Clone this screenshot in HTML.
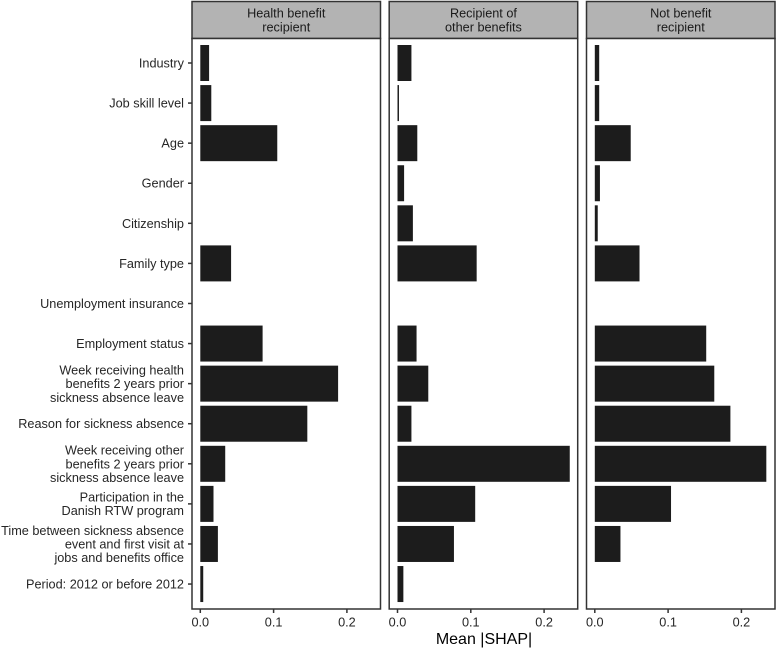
<!DOCTYPE html>
<html>
<head>
<meta charset="utf-8">
<style>
html,body{margin:0;padding:0;background:#fff;}
svg{display:block;}
text{font-family:"Liberation Sans",sans-serif;}
</style>
</head>
<body>
<svg id="chart" width="777" height="648" viewBox="0 0 777 648" xmlns="http://www.w3.org/2000/svg"></svg>
<script>
const categories = [
  ["Industry"],
  ["Job skill level"],
  ["Age"],
  ["Gender"],
  ["Citizenship"],
  ["Family type"],
  ["Unemployment insurance"],
  ["Employment status"],
  ["Week receiving health","benefits 2 years prior","sickness absence leave"],
  ["Reason for sickness absence"],
  ["Week receiving other","benefits 2 years prior","sickness absence leave"],
  ["Participation in the","Danish RTW program"],
  ["Time between sickness absence","event and first visit at","jobs and benefits office"],
  ["Period: 2012 or before 2012"]
];
const panelTitles = [
  ["Health benefit","recipient"],
  ["Recipient of","other benefits"],
  ["Not benefit","recipient"]
];
const healthValues = [0.012,0.015,0.105,0,0,0.042,0,0.085,0.188,0.146,0.034,0.018,0.024,0.004];
const otherValues = [0.019,0.002,0.027,0.009,0.021,0.108,0,0.026,0.042,0.019,0.235,0.106,0.077,0.008];
const noneValues = [0.006,0.006,0.049,0.007,0.004,0.061,0,0.152,0.163,0.185,0.234,0.104,0.035,0];
const xTicks = [0.0,0.1,0.2];
const xTickLabels = ["0.0","0.1","0.2"];
const axisTitle = "Mean |SHAP|";

const NS = "http://www.w3.org/2000/svg";
const svg = document.getElementById("chart");
const panelLefts = [192, 389.2, 586.5];
const panelW = 188.5;
const stripTop = 1.5, stripBottom = 38.5, panelBottom = 609;
const seriesList = [healthValues, otherValues, noneValues];
const pxPerUnit = 733;
const zeroOffset = 8.3;
const firstY = 63, stepY = 40.08, barH = 36;
const labelSize = 12.7;

function el(tag, attrs, parent){
  const e = document.createElementNS(NS, tag);
  for(const k in attrs){ e.setAttribute(k, attrs[k]); }
  (parent || svg).appendChild(e);
  return e;
}
function xScale(panel, v){ return panelLefts[panel] + zeroOffset + v * pxPerUnit; }
function yScale(i){ return firstY + i * stepY; }

panelLefts.forEach(function(left, p){
  const g = el("g", {});
  
  

  const strip = el("rect", {x:left, y:stripTop, width:panelW, height:stripBottom - stripTop, fill:"#b3b3b3", stroke:"#333333", "stroke-width":1.5}, g);
  
  

  panelTitles[p].forEach(function(line, li){
    const t = el("text", {x:left + panelW / 2, y:17.7 + li * 13.7, "text-anchor":"middle", "font-size":labelSize, fill:"#1a1a1a"}, g);
    
    
    t.textContent = line;
  });

  const bg = el("rect", {x:left, y:stripBottom, width:panelW, height:panelBottom - stripBottom, fill:"#ffffff"}, g);
  
  

  seriesList[p].forEach(function(v, i){
    if(v <= 0) return;
    const b = el("rect", {x:xScale(p, 0), y:yScale(i) - barH / 2, width:xScale(p, v) - xScale(p, 0), height:barH, fill:"#1c1c1c"}, g);
    
    
  });

  const border = el("rect", {x:left, y:stripBottom, width:panelW, height:panelBottom - stripBottom, fill:"none", stroke:"#333333", "stroke-width":1.5}, g);
  
  

  xTicks.forEach(function(v, ti){
    const x = xScale(p, v);
    const tick = el("line", {x1:x, x2:x, y1:panelBottom, y2:panelBottom + 4, stroke:"#333333", "stroke-width":1.5}, g);
    
    
    const lab = el("text", {x:x, y:626.3, "text-anchor":"middle", "font-size":labelSize, fill:"#262626"}, g);
    
    
    lab.textContent = xTickLabels[ti];
  });
});

categories.forEach(function(lines, i){
  const y = yScale(i);
  const tick = el("line", {x1:188, x2:192, y1:y, y2:y, stroke:"#333333", "stroke-width":1.5});
  
  
  const lh = 13.7;
  const startY = y + 4.5 - (lines.length - 1) * lh / 2;
  lines.forEach(function(line, li){
    const t = el("text", {x:184, y:startY + li * lh, "text-anchor":"end", "font-size":labelSize, fill:"#262626"});
    
    
    t.textContent = line;
  });
});

const xt = el("text", {x:484, y:644, "text-anchor":"middle", "font-size":16, fill:"#000000"});


xt.textContent = axisTitle;
</script>
</body>
</html>
